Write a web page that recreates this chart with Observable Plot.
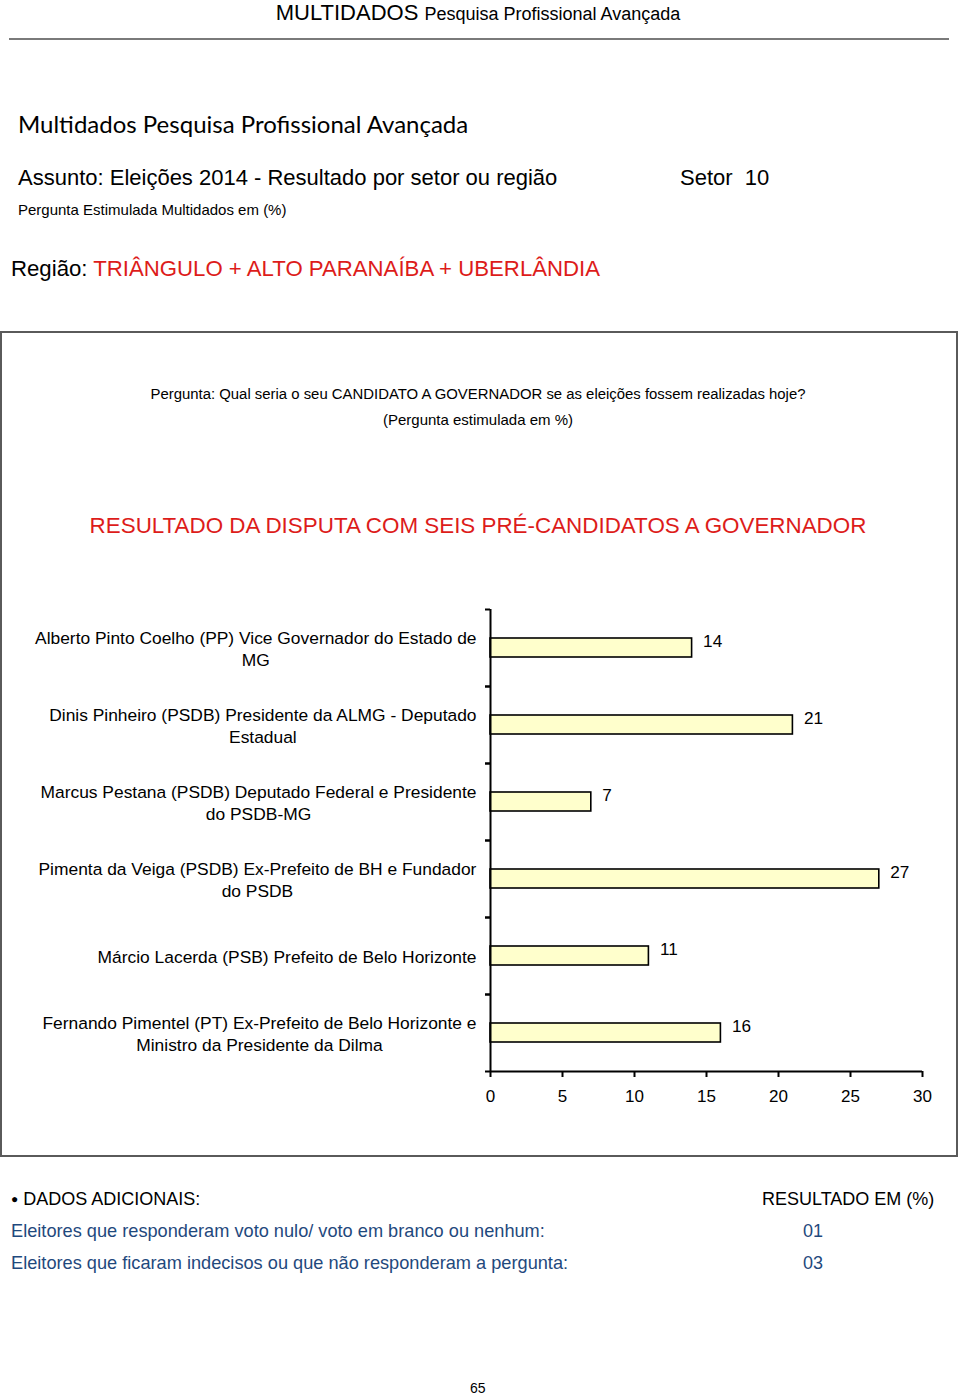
<!DOCTYPE html>
<html>
<head>
<meta charset="utf-8">
<script src="https://cdn.jsdelivr.net/npm/d3@7"></script>
<script src="https://cdn.jsdelivr.net/npm/@observablehq/plot@0.6"></script>
<style>
  html, body { margin: 0; padding: 0; background: #fff; }
  #page { position: relative; width: 960px; height: 1396px; overflow: hidden; font-family: 'Liberation Sans', Arial, sans-serif; color: #000; }
  .t { position: absolute; white-space: nowrap; line-height: 1; }
</style>
</head>
<body>
<div id="page">
  <div class="t" style="left:0; width:956px; text-align:center; top:2px; font-size:22px;">MULTIDADOS <span style="font-size:18px;">Pesquisa Profissional Avançada</span></div>
  <div style="position:absolute; left:9px; top:38px; width:940px; height:2px; background:#7a7a7a;"></div>

  <div class="t" style="left:18px; top:112px; font-size:24px; font-family:Lato, 'Open Sans', sans-serif;">Multidados Pesquisa Profissional Avançada</div>
  <div class="t" style="left:18px; top:167px; font-size:22px;">Assunto: Eleições 2014 - Resultado por setor ou região</div>
  <div class="t" style="left:680px; top:167px; font-size:22px;">Setor&nbsp; 10</div>
  <div class="t" style="left:18px; top:202px; font-size:15px;">Pergunta Estimulada Multidados em (%)</div>
  <div class="t" style="left:11px; top:258px; font-size:22.2px;">Região: <span style="color:#dd1c1a;">TRIÂNGULO + ALTO PARANAÍBA + UBERLÂNDIA</span></div>

  <div style="position:absolute; left:0px; top:331px; width:958px; height:826px; border:2px solid #5a5a5a; box-sizing:border-box;"></div>
  <div class="t" style="left:0; width:956px; text-align:center; top:387px; font-size:14.9px;">Pergunta: Qual seria o seu CANDIDATO A GOVERNADOR se as eleições fossem realizadas hoje?</div>
  <div class="t" style="left:0; width:956px; text-align:center; top:412px; font-size:15px;">(Pergunta estimulada em %)</div>
  <div class="t" style="left:0; width:956px; text-align:center; top:515px; font-size:22.4px; color:#dd1c1a;">RESULTADO DA DISPUTA COM SEIS PRÉ-CANDIDATOS A GOVERNADOR</div>

  <div id="chart" style="position:absolute; left:0; top:560px;"></div>

  <div class="t" style="left:11px; top:1190px; font-size:18px;"><span style="font-size:12px; vertical-align:2px;">●</span> DADOS ADICIONAIS:</div>
  <div class="t" style="left:762px; top:1190px; font-size:18px;">RESULTADO EM (%)</div>
  <div class="t" style="left:11px; top:1222px; font-size:18.2px; color:#1f497d;">Eleitores que responderam voto nulo/ voto em branco ou nenhum:</div>
  <div class="t" style="left:803px; top:1222px; font-size:18px; color:#1f497d;">01</div>
  <div class="t" style="left:11px; top:1254px; font-size:18.2px; color:#1f497d;">Eleitores que ficaram indecisos ou que não responderam a pergunta:</div>
  <div class="t" style="left:803px; top:1254px; font-size:18px; color:#1f497d;">03</div>
  <div class="t" style="left:470px; top:1381px; font-size:14px;">65</div>
</div>
<script>
// Data
const candidates = [
  "Alberto Pinto Coelho (PP) Vice Governador do Estado de MG",
  "Dinis Pinheiro (PSDB) Presidente da ALMG - Deputado Estadual",
  "Marcus Pestana (PSDB) Deputado Federal e Presidente do PSDB-MG",
  "Pimenta da Veiga (PSDB) Ex-Prefeito de BH e Fundador do PSDB",
  "Márcio Lacerda (PSB) Prefeito de Belo Horizonte",
  "Fernando Pimentel (PT) Ex-Prefeito de Belo Horizonte e Ministro da Presidente da Dilma"
];
const tickLabels = [
  "Alberto Pinto Coelho (PP) Vice Governador do Estado de\nMG",
  "Dinis Pinheiro (PSDB) Presidente da ALMG - Deputado\nEstadual",
  "Marcus Pestana (PSDB) Deputado Federal e Presidente\ndo PSDB-MG",
  "Pimenta da Veiga (PSDB) Ex-Prefeito de BH e Fundador\ndo PSDB",
  "Márcio Lacerda (PSB) Prefeito de Belo Horizonte",
  "Fernando Pimentel (PT) Ex-Prefeito de Belo Horizonte e\nMinistro da Presidente da Dilma"
];
const values = [14, 21, 7, 27, 11, 16];
const xTicks = [0, 5, 10, 15, 20, 25, 30];

const rows = candidates.map((name, i) => ({name, label: tickLabels[i], value: values[i]}));

const H = 570, MT = 49, MB = 59;
const band = (H - MT - MB) / candidates.length;

const chart = Plot.plot({
  width: 960,
  height: H,
  marginLeft: 490,
  marginRight: 38,
  marginTop: MT,
  marginBottom: MB,
  style: {background: "transparent", fontFamily: "'Liberation Sans', Arial, sans-serif", fontSize: "17px", color: "black", overflow: "visible"},
  x: {domain: [0, 30]},
  y: {domain: candidates, padding: 0},
  marks: [
    Plot.barX(rows, {x: "value", y: "name", fill: "#FFFFCC", stroke: "black", strokeWidth: 1.6, insetTop: 29, insetBottom: 29}),
    Plot.ruleX([0], {stroke: "black", strokeWidth: 2}),
    Plot.ruleY([candidates[candidates.length - 1]], {x1: 0, x2: 30, dy: band / 2, stroke: "black", strokeWidth: 2}),
    Plot.axisY({tickSize: 5, tickFormat: () => "", dy: -band / 2, strokeWidth: 2, label: null}),
    Plot.axisY({tickSize: 5, tickFormat: () => "", dy: band / 2, strokeWidth: 2, label: null}),
    Plot.axisX({ticks: xTicks, tickSize: 6, tickPadding: 12, fontSize: 17, strokeWidth: 2, label: null}),
    Plot.text(rows, {x: "value", y: "name", text: d => String(d.value), dx: 11, dy: -7, textAnchor: "start", fontSize: 17.2, fill: "black"}),
    Plot.text(rows, {x: () => 0, y: "name", text: "label", textAnchor: "middle", dx: -14, lineHeight: 1.28, fontSize: 17.4, fill: "black"})
  ]
});
document.getElementById("chart").append(chart);

// right-align each category label block while keeping its lines centred on each other
const labelTexts = Array.from(chart.querySelectorAll("text")).filter(t => tickLabels.some(l => t.textContent.replace(/\s+/g, " ").trim() === l.replace(/\n/g, " ").trim() || t.textContent === l.replace(/\n/g, "")));
labelTexts.forEach(t => {
  const w = t.getBBox().width;
  const tr = t.getAttribute("transform") || "";
  t.setAttribute("transform", tr + ` translate(${-w / 2},0)`);
});
</script>
</body>
</html>
